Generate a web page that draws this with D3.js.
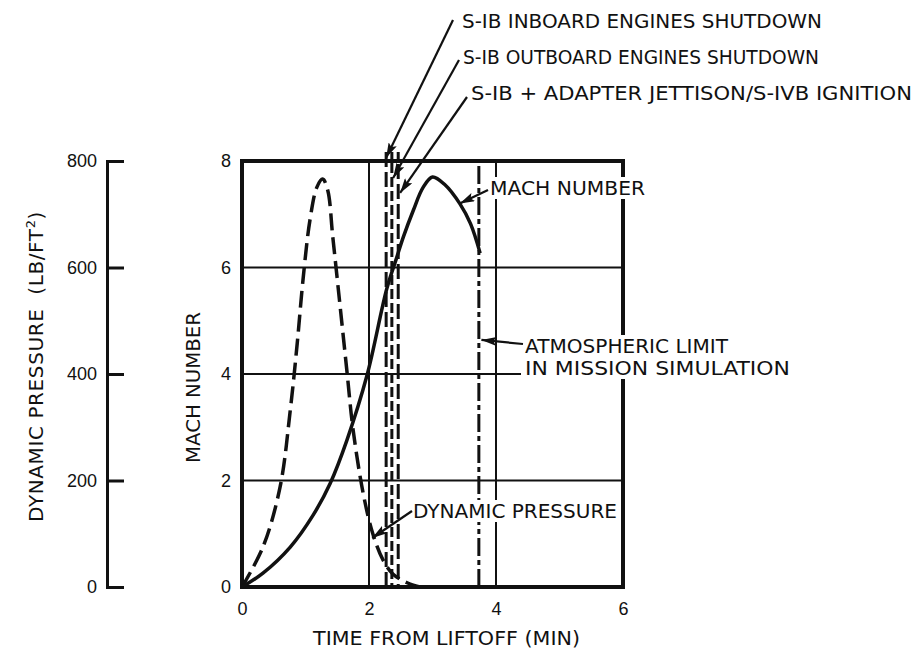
<!DOCTYPE html>
<html>
<head>
<meta charset="utf-8">
<script src="https://cdn.jsdelivr.net/npm/d3@7/dist/d3.min.js"></script>
<style>
  body { margin: 0; background: #fff; }
  svg { display: block; font-family: "DejaVu Sans", sans-serif; }
  .axis text { font-size: 18px; fill: #111; }
  .axis path, .axis line { stroke: #111; }
</style>
</head>
<body>
<div id="chart"></div>
<script>
// dynamic pressure (lb/ft^2) against time from liftoff (min)
const dynTime = [0, 0.33, 0.6, 0.76, 0.87, 0.96, 1.07, 1.18, 1.27, 1.35, 1.43, 1.54, 1.65, 1.75, 1.91, 2.06, 2.22, 2.38, 2.6, 2.8];
const dynPressure = [0, 75, 188, 332, 458, 576, 689, 751, 766, 745, 657, 533, 408, 295, 175, 100, 51, 24, 8, 0];

// mach number against time from liftoff (min)
const machTime = [0, 0.33, 0.76, 1.12, 1.39, 1.65, 1.97, 2.28, 2.44, 2.54, 2.7, 2.85, 3.0, 3.2, 3.43, 3.6, 3.75];
const machNumber = [0, 0.26, 0.75, 1.35, 1.95, 2.75, 3.98, 5.6, 6.2, 6.57, 7.08, 7.5, 7.7, 7.55, 7.2, 6.82, 6.27];

// staging events and atmospheric limit (min)
const eventTimes = [2.27, 2.36, 2.46];
const atmosphericLimitTime = 3.73;

const timeTicks = [0, 2, 4, 6];
const machTicks = [0, 2, 4, 6, 8];
const pressureTicks = [0, 200, 400, 600, 800];
const gridTimes = [2, 4];
const gridMach = [2, 4, 6];

const eventLabels = [
  'S-IB INBOARD ENGINES SHUTDOWN',
  'S-IB OUTBOARD ENGINES SHUTDOWN',
  'S-IB + ADAPTER JETTISON/S-IVB IGNITION'
];

const width = 917;
const height = 655;
const plot = { left: 242, right: 623, top: 161, bottom: 587 };
const pressureAxisX = 107;

const svg = d3.select('#chart')
  .append('svg')
  .attr('width', width)
  .attr('height', height);

const x = d3.scaleLinear().domain([0, 6]).range([plot.left, plot.right]);
const y = d3.scaleLinear().domain([0, 8]).range([plot.bottom, plot.top]);
const q = d3.scaleLinear().domain([0, 800]).range([plot.bottom, plot.top]);

svg.append('defs')
  .append('marker')
  .attr('id', 'arrow')
  .attr('viewBox', '0 0 15 9')
  .attr('refX', 15)
  .attr('refY', 4.5)
  .attr('markerWidth', 15)
  .attr('markerHeight', 9)
  .attr('markerUnits', 'userSpaceOnUse')
  .attr('orient', 'auto')
  .append('path')
  .attr('d', 'M0,0 L15,4.5 L0,9 L3,4.5 z')
  .attr('fill', '#111');

// outer dynamic pressure scale, bracket shaped
svg.append('g')
  .attr('class', 'axis')
  .attr('transform', `translate(${pressureAxisX},0)`)
  .call(d3.axisLeft(q)
    .tickValues(pressureTicks)
    .tickFormat(d3.format('d'))
    .tickSizeInner(-17)
    .tickSizeOuter(-17)
    .tickPadding(10))
  .call(g => g.selectAll('path, line').attr('stroke-width', 3));

// grid
const grid = svg.append('g').attr('stroke', '#111').attr('stroke-width', 2);
grid.selectAll('.hgrid')
  .data(gridMach)
  .enter()
  .append('line')
  .attr('x1', plot.left)
  .attr('x2', plot.right)
  .attr('y1', d => y(d))
  .attr('y2', d => y(d));
grid.selectAll('.vgrid')
  .data(gridTimes)
  .enter()
  .append('line')
  .attr('x1', d => x(d))
  .attr('x2', d => x(d))
  .attr('y1', plot.bottom)
  .attr('y2', plot.top);

// mach axis labels and time axis labels
svg.append('g')
  .attr('class', 'axis')
  .attr('transform', `translate(${plot.left},0)`)
  .call(d3.axisLeft(y).tickValues(machTicks).tickFormat(d3.format('d')).tickSize(0).tickPadding(11))
  .call(g => g.select('.domain').remove());

svg.append('g')
  .attr('class', 'axis')
  .attr('transform', `translate(0,${plot.bottom})`)
  .call(d3.axisBottom(x).tickValues(timeTicks).tickFormat(d3.format('d')).tickSize(0).tickPadding(15))
  .call(g => g.select('.domain').remove());

// frame
svg.append('rect')
  .attr('x', plot.left)
  .attr('y', plot.top)
  .attr('width', plot.right - plot.left)
  .attr('height', plot.bottom - plot.top)
  .attr('fill', 'none')
  .attr('stroke', '#111')
  .attr('stroke-width', 4);

// staging event lines
svg.selectAll('.event')
  .data(eventTimes)
  .enter()
  .append('line')
  .attr('class', 'event')
  .attr('x1', d => x(d))
  .attr('x2', d => x(d))
  .attr('y1', y(0))
  .attr('y2', y(8.17))
  .attr('stroke', '#111')
  .attr('stroke-width', 3)
  .attr('stroke-dasharray', (d, i) => (i === 1 ? '10,4' : '15,5'))
  .attr('stroke-dashoffset', (d, i) => i * 6);

svg.append('line')
  .attr('x1', x(atmosphericLimitTime))
  .attr('x2', x(atmosphericLimitTime))
  .attr('y1', y(0))
  .attr('y2', y(8))
  .attr('stroke', '#111')
  .attr('stroke-width', 3)
  .attr('stroke-dasharray', '18,4,5,4');

// curves
const dynLine = d3.line()
  .x((d, i) => x(dynTime[i]))
  .y(d => q(d))
  .curve(d3.curveCatmullRom.alpha(0.5));

svg.append('path')
  .datum(dynPressure)
  .attr('fill', 'none')
  .attr('stroke', '#111')
  .attr('stroke-width', 3.5)
  .attr('stroke-dasharray', '17,7')
  .attr('d', dynLine);

const machLine = d3.line()
  .x((d, i) => x(machTime[i]))
  .y(d => y(d))
  .curve(d3.curveCatmullRom.alpha(0.5));

svg.append('path')
  .datum(machNumber)
  .attr('fill', 'none')
  .attr('stroke', '#111')
  .attr('stroke-width', 3.5)
  .attr('stroke-linejoin', 'round')
  .attr('d', machLine);

// annotations: tips in data units, text in pixels
const notes = [
  { text: eventLabels[0], tx: 462, ty: 28, len: 360, from: [453, 20], tip: [eventTimes[0], 8.06] },
  { text: eventLabels[1], tx: 463, ty: 64, len: 356, from: [459, 60], tip: [eventTimes[1] + 0.02, 7.68] },
  { text: eventLabels[2], tx: 471, ty: 100, len: 441, from: [467, 97], tip: [eventTimes[2] + 0.03, 7.4] },
  { text: 'MACH NUMBER', tx: 490, ty: 195, len: 155, from: [488, 190], tip: [3.43, 7.2] },
  { text: 'ATMOSPHERIC LIMIT', tx: 525, ty: 353, len: 203, from: [523, 344], tip: [atmosphericLimitTime + 0.04, 4.64] },
  { text: 'IN MISSION SIMULATION', tx: 525, ty: 375, len: 265 },
  { text: 'DYNAMIC PRESSURE', tx: 413, ty: 518, len: 204, from: [412, 511], tip: [2.05, 0.92] }
];

const noteG = svg.append('g');
notes.forEach(n => {
  const t = noteG.append('text')
    .attr('x', n.tx)
    .attr('y', n.ty)
    .attr('font-size', 20)
    .attr('fill', '#111')
    .attr('textLength', n.len)
    .attr('lengthAdjust', 'spacingAndGlyphs')
    .text(n.text);
  const b = t.node().getBBox();
  noteG.insert('rect', () => t.node())
    .attr('x', b.x - 4)
    .attr('y', b.y + 1)
    .attr('width', b.width + 7)
    .attr('height', b.height - 2)
    .attr('fill', '#fff');
});

noteG.selectAll('.arrow')
  .data(notes.filter(n => n.from))
  .enter()
  .append('line')
  .attr('x1', d => d.from[0])
  .attr('y1', d => d.from[1])
  .attr('x2', d => x(d.tip[0]))
  .attr('y2', d => y(d.tip[1]))
  .attr('stroke', '#111')
  .attr('stroke-width', 2.2)
  .attr('marker-end', 'url(#arrow)');

// axis titles
svg.append('text')
  .attr('x', 313)
  .attr('y', 645)
  .attr('font-size', 20)
  .attr('fill', '#111')
  .attr('textLength', 267)
  .attr('lengthAdjust', 'spacingAndGlyphs')
  .text('TIME FROM LIFTOFF (MIN)');

svg.append('text')
  .attr('transform', 'translate(200,463) rotate(-90)')
  .attr('font-size', 20)
  .attr('fill', '#111')
  .attr('textLength', 151)
  .attr('lengthAdjust', 'spacingAndGlyphs')
  .text('MACH NUMBER');

const qTitle = svg.append('text')
  .attr('transform', 'translate(43,522) rotate(-90)')
  .attr('font-size', 20)
  .attr('fill', '#111')
  .attr('letter-spacing', 0.6);
qTitle.append('tspan').text('DYNAMIC PRESSURE\u00a0 (LB/FT');
qTitle.append('tspan').attr('font-size', 13).attr('dy', -8).text('2');
qTitle.append('tspan').attr('dy', 8).text(')');
</script>
</body>
</html>
